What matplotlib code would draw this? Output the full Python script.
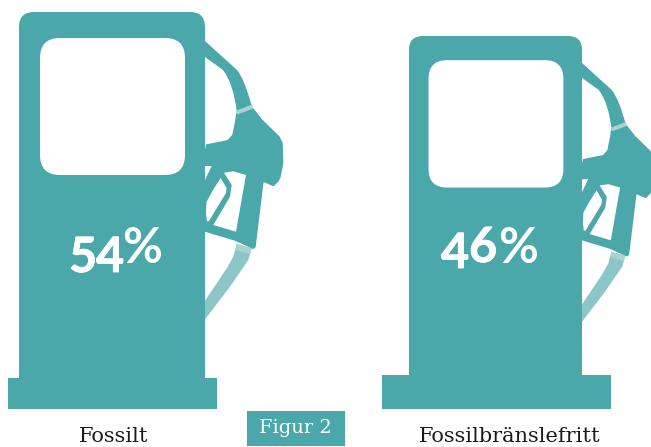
import matplotlib
matplotlib.use('Agg')
import matplotlib.pyplot as plt
import matplotlib.patheffects as pe
from matplotlib.patches import PathPatch, Polygon, FancyBboxPatch, Rectangle
from matplotlib.path import Path

categories = ['Fossilt', 'Fossilbränslefritt']
values = [54, 46]
figure_label = 'Figur 2'

TEAL = '#4aa7aa'
LIGHT = '#8cc6c8'
BAND = '#a9d2d3'

# pump outlines in pixels of the big pump, the small one is scaled from it
hose = [(205, 41), (237, 70), (245, 80), (252, 107), (237, 114), (234, 84), (223, 70), (205, 57)]
hose_codes = [Path.MOVETO, Path.LINETO, Path.CURVE3, Path.CURVE3, Path.LINETO, Path.CURVE3, Path.CURVE3, Path.LINETO]
nozzle = [(236.7, 114), (252.7, 108.7), (261.7, 120), (279, 137), (282, 143), (282.7, 163), (280, 176.7),
          (278, 181), (273.3, 185.5), (263, 181), (255, 246.7), (253.3, 248.3), (235, 240), (205, 231), (205, 153.3),
          (206.7, 145), (228, 140.7), (233, 135), (236, 120)]
opening = [(224, 172.7), (233.3, 171.3), (246, 175), (236, 231.7), (213.3, 225), (230, 196.7), (231.7, 185)]
trigger_hole = [(220.7, 178), (226.5, 188), (226, 193), (209, 221), (207, 221.5), (206, 213), (206.5, 202), (213, 190)]
notch = [(205, 166), (211.7, 166), (205, 180)]
low_hose = [(236.7, 244), (251.7, 248.3), (248.3, 260), (230, 286.7), (205, 319.3), (205, 300.7), (226.7, 268.3),
            (233.3, 256.7)]
collar = [(236.5, 110.5), (252, 104.5), (253.5, 108.5), (237.5, 114.5)]
low_band = [(236.7, 244), (251.7, 248.3), (249.5, 254), (235.5, 250)]


def draw_pump(ax, x0, y0, s, base_left, base_right, base_top, base_bottom):
    def tr(pts):
        return [(x0 + (x - 19) * s, y0 + (y - 12) * s) for x, y in pts]

    ax.add_patch(Polygon(tr(low_hose), closed=True, fc=LIGHT, ec='none'))
    ax.add_patch(Polygon(tr(low_band), closed=True, fc=BAND, ec='none'))
    ax.add_patch(PathPatch(Path(tr(hose), hose_codes), fc=TEAL, ec='none'))
    ax.add_patch(Polygon(tr(nozzle), closed=True, fc=TEAL, ec=TEAL, lw=1, joinstyle='round'))
    for pts in [opening, trigger_hole, notch]:
        ax.add_patch(Polygon(tr(pts), closed=True, fc='white', ec='none'))
    ax.add_patch(Polygon(tr(collar), closed=True, fc=BAND, ec='none'))

    # body, round at the top, square at the bottom
    w = 186 * s
    h = (base_top + 4 - y0)
    r = 15 * s
    body = [(x0, y0 + h), (x0, y0 + r), (x0, y0), (x0 + r, y0), (x0 + w - r, y0), (x0 + w, y0), (x0 + w, y0 + r),
            (x0 + w, y0 + h), (x0, y0 + h)]
    codes = [Path.MOVETO, Path.LINETO, Path.CURVE3, Path.CURVE3, Path.LINETO, Path.CURVE3, Path.CURVE3, Path.LINETO,
             Path.CLOSEPOLY]
    ax.add_patch(PathPatch(Path(body, codes), fc=TEAL, ec='none'))
    ax.add_patch(Rectangle((base_left, base_top), base_right - base_left, base_bottom - base_top, fc=TEAL, ec='none'))

    # window
    pad = 20 * s
    ax.add_patch(FancyBboxPatch((x0 + 21 * s + pad, y0 + 26 * s + pad), (145 - 40) * s, (137 - 40) * s,
                                boxstyle='round,pad=%f' % pad, fc='white', ec='none'))


def draw_percent(ax, value, digit_pos, pct_pos):
    # old style figures in the original, so every digit sits on its own baseline
    heavy = [pe.withStroke(linewidth=0.6, foreground='white')]
    for ch, (x, y) in zip(str(value), digit_pos):
        ax.text(x, y, ch, color='white', fontsize=35, fontweight='bold', family='Lato', ha='left', va='baseline',
                path_effects=heavy)
    ax.text(pct_pos[0], pct_pos[1], '%', color='white', fontsize=35, fontweight='bold', family='Lato',
            ha='left', va='baseline')


fig = plt.figure(figsize=(6.51, 4.47), dpi=100)
ax = fig.add_axes([0, 0, 1, 1])
ax.set_xlim(0, 651)
ax.set_ylim(447, 0)
ax.axis('off')

draw_pump(ax, 19, 12, 1.0, 8, 217, 378, 409)
draw_pump(ax, 409, 36, 0.93, 382, 611, 375, 409)

draw_percent(ax, values[0], [(69, 272), (96, 272)], (122, 263))
draw_percent(ax, values[1], [(441, 268), (469, 262)], (498, 263))

ax.text(113.5, 436, categories[0], color='#1a1a1a', fontsize=15, family='DejaVu Serif', ha='center', va='center')
ax.text(510, 436, categories[1], color='#1a1a1a', fontsize=15, family='DejaVu Serif', ha='center', va='center')

ax.add_patch(Rectangle((247, 411), 98, 35, fc=TEAL, ec='none'))
ax.text(295, 428, figure_label, color='white', fontsize=14, family='DejaVu Serif', ha='center', va='center')

fig.savefig('out.png', dpi=100)
